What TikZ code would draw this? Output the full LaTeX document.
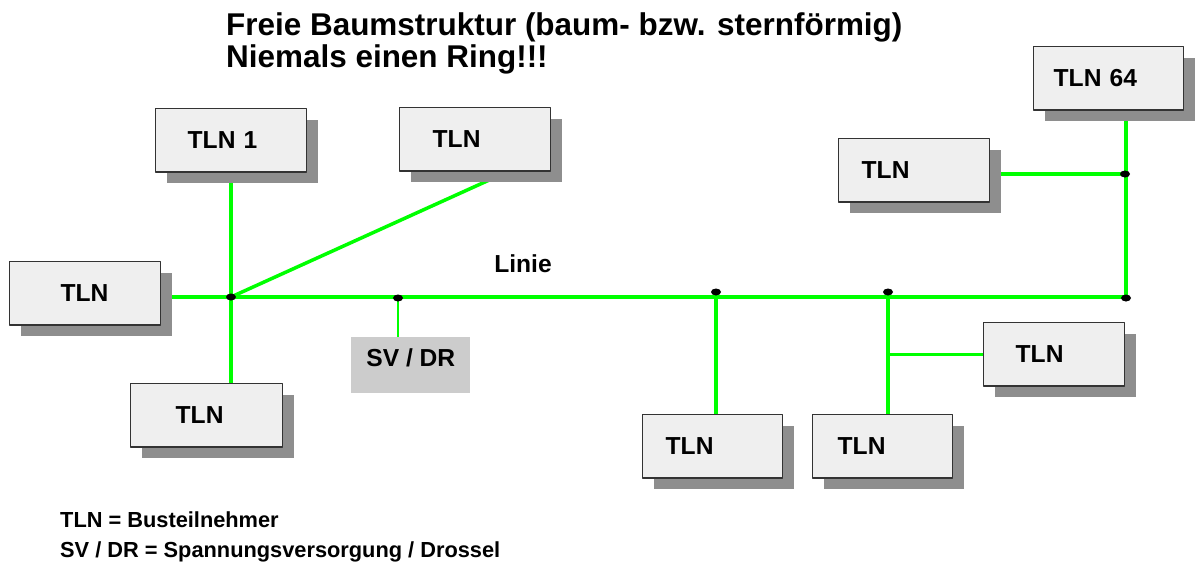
\documentclass[tikz,border=0pt]{standalone}
\usepackage{fontspec}
\setmainfont{Liberation Sans}
\usetikzlibrary{shadows,backgrounds}
\definecolor{busgreen}{RGB}{0,255,0}
\definecolor{boxgray}{RGB}{239,239,239}
\definecolor{shadowgray}{RGB}{142,142,142}
\definecolor{svgray}{RGB}{204,204,204}
\tikzset{
	tln/.style={draw=black!80, line width=0.8pt, fill=boxgray, anchor=north west,
		drop shadow={shadow xshift=0.22cm, shadow yshift=-0.22cm, fill=shadowgray, opacity=1},
		text width=#1, align=left, inner xsep=0pt, minimum height=1.27cm},
	bus/.style={busgreen, line width=2.8pt},
	stub/.style={busgreen, line width=1.8pt},
	jdot/.style={black}
}
\newcommand\pad[1]{\hspace*{#1}}
\begin{document}
\begin{tikzpicture}[x=0.02cm,y=-0.02cm,line join=round,font=\bfseries\fontsize{14}{16}\selectfont]
	\useasboundingbox (0,0) rectangle (1198,565);
	% Titel und Legende
	\node [anchor=base west, font=\bfseries\fontsize{17.9}{18}\selectfont] (title1) at (220,35) {Freie Baumstruktur (baum- bzw. sternförmig)};
	\node [anchor=base west, font=\bfseries\fontsize{17.9}{18}\selectfont] (title2) at (220,67) {Niemals einen Ring!!!};
	\node [anchor=base west, font=\bfseries\fontsize{12.4}{14}\selectfont] (leg1) at (54,527) {TLN = Busteilnehmer};
	\node [anchor=base west, font=\bfseries\fontsize{12.4}{14}\selectfont] (leg2) at (54,557) {SV / DR = Spannungsversorgung / Drossel};
	\node (linie) at (523,264) {Linie};
	% Teilnehmer
	\node [tln=3.02cm] (tln1) at (155,108) {\pad{0.64cm}TLN 1};
	\node [tln=3.02cm] (tlnT) at (399,107) {\pad{0.66cm}TLN};
	\node [tln=3.02cm] (tlnL) at (9,261) {\pad{1.02cm}TLN};
	\node [tln=3.04cm] (tlnBL) at (130,383) {\pad{0.9cm}TLN};
	\node [tln=2.8cm] (tlnB1) at (642,414) {\pad{0.46cm}TLN};
	\node [tln=2.8cm] (tlnB2) at (812,414) {\pad{0.5cm}TLN};
	\node [tln=2.82cm] (tlnR) at (983,322) {\pad{0.64cm}TLN};
	\node [tln=3.02cm] (tlnU) at (838,138) {\pad{0.46cm}TLN};
	\node [tln=3cm] (tln64) at (1033,46) {\pad{0.4cm}TLN 64};
	\node [fill=svgray, anchor=north west, minimum width=2.38cm, minimum height=1.12cm, inner sep=0pt,
		text height=10pt, text depth=9pt] (sv) at (351,337) {SV / DR};
	% Abzweige
	\coordinate (j1) at (231,297);
	\coordinate (jSV) at (398,297);
	\coordinate (jB1) at (716,297);
	\coordinate (jB2) at (888,297);
	\coordinate (jEnd) at (1126,297);
	\coordinate (jU) at (1125,174);
	\coordinate (jR) at (jB2 |- tlnR);
	\begin{scope}[on background layer]
		\draw [bus] (j1 -| tlnL) -- (jEnd);
		\draw [stub] (j1 |- tln1) -- (j1) -- (j1 |- tlnBL);
		\draw [stub, line width=2pt] (j1) -- ([xshift=0.64cm]tlnT.south);
		\draw [busgreen, line width=1.1pt] (jSV) -- (jSV |- sv);
		\draw [busgreen, line width=2.3pt] (jB1) -- (jB1 |- tlnB1);
		\draw [stub] (jB2) -- (jB2 |- tlnB2) (jR) -- (tlnR);
		\draw [stub, line width=2pt] (jEnd) -- (jEnd |- tln64) (jU) -- (jU -| tlnU);
	\end{scope}
	\foreach \j/\dy in {j1/0, jSV/1, jB1/-5, jB2/-5, jEnd/1, jU/0}
		\fill [jdot] ([yshift=-\dy*0.02cm]\j) ellipse [x radius=0.1cm, y radius=0.07cm];
\end{tikzpicture}
\end{document}
